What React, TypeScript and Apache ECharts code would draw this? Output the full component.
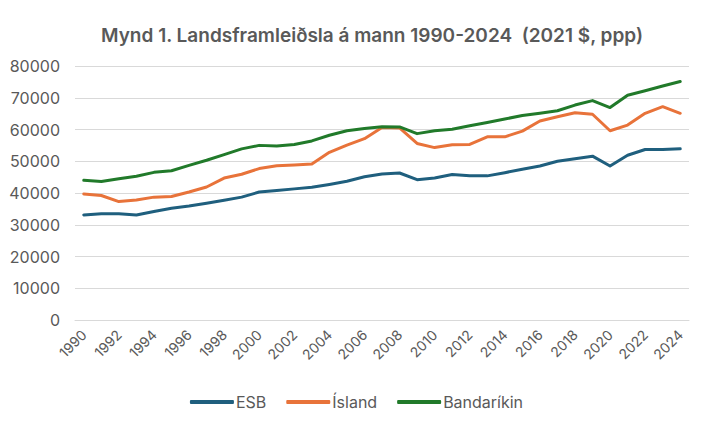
import React, { useEffect, useRef } from "react";
import * as echarts from "echarts";

const years: string[] = [];
for (let y = 1990; y <= 2024; y++) years.push(String(y));

const esb = [
  33100, 33500, 33500, 33100, 34200, 35200, 35900, 36800, 37700, 38700,
  40300, 40800, 41300, 41800, 42700, 43700, 45100, 46000, 46300, 44200,
  44700, 45800, 45400, 45400, 46400, 47500, 48500, 50000, 50800, 51600,
  48500, 51900, 53700, 53700, 53900,
];

const island = [
  39700, 39200, 37300, 37800, 38700, 38900, 40300, 41900, 44700, 45900,
  47700, 48600, 48800, 49100, 52800, 55100, 57100, 60600, 60500, 55600,
  54300, 55200, 55300, 57700, 57700, 59500, 62700, 64000, 65300, 64800,
  59600, 61400, 65100, 67200, 65100,
];

const bandarikin = [
  44000, 43600, 44500, 45300, 46500, 47000, 48700, 50300, 52100, 53900,
  55000, 54800, 55300, 56400, 58200, 59600, 60300, 60900, 60800, 58700,
  59600, 60100, 61200, 62200, 63300, 64400, 65100, 65900, 67700, 69100,
  66900, 70800, 72200, 73700, 75100,
];

const seriesNames = ["ESB", "Ísland", "Bandaríkin"];
const colors = ["#1f5f7e", "#e8733a", "#217a2a"];
const title = "Mynd 1. Landsframleiðsla á mann 1990-2024  (2021 $, ppp)";

export default function App() {
  const ref = useRef<HTMLDivElement>(null);
  useEffect(() => {
    if (!ref.current) return;
    const chart = echarts.init(ref.current, undefined, { renderer: "svg" });
    const font = "Inter, 'Noto Sans', sans-serif";
    const data = [esb, island, bandarikin];
    chart.setOption({
      animation: false,
      backgroundColor: "#ffffff",
      graphic: [
        {
          type: "line",
          shape: { x1: 0, y1: 1.5, x2: 713, y2: 1.5 },
          style: { stroke: "#dcdcdc", lineWidth: 2 },
          silent: true,
        },
      ],
      title: {
        text: title,
        left: 96,
        top: 21,
        textStyle: { fontFamily: font, fontSize: 19, fontWeight: 600, color: "#595959" },
      },
      legend: {
        bottom: 13,
        left: "center",
        itemWidth: 44,
        itemHeight: 4,
        itemGap: 20,
        icon: "roundRect",
        textStyle: { fontFamily: font, fontSize: 16, color: "#595959", padding: [0, 0, 0, -3] },
        data: seriesNames,
      },
      grid: { left: 75, right: 24, top: 66, bottom: 108 },
      xAxis: {
        type: "category",
        data: years,
        boundaryGap: true,
        axisLine: { show: true, lineStyle: { color: "#d9d9d9" } },
        axisTick: { show: false },
        axisLabel: {
          interval: 1,
          rotate: 45,
          fontFamily: font,
          fontSize: 14,
          color: "#595959",
          margin: 12,
        },
      },
      yAxis: {
        type: "value",
        min: 0,
        max: 80000,
        interval: 10000,
        axisLine: { show: false },
        axisTick: { show: false },
        axisLabel: {
          fontFamily: font,
          fontSize: 16,
          color: "#595959",
          margin: 15,
          formatter: (v: number) => String(v),
        },
        splitLine: { lineStyle: { color: "#d9d9d9", width: 1 } },
      },
      series: seriesNames.map((n, i) => ({
        name: n,
        type: "line",
        data: data[i],
        symbol: "none",
        lineStyle: { width: 3, color: colors[i], cap: "round", join: "round" },
        itemStyle: { color: colors[i] },
      })),
    });
    return () => chart.dispose();
  }, []);
  return (
    <div style={{ margin: -8 }}>
      <div ref={ref} style={{ width: 713, height: 428 }} />
    </div>
  );
}
